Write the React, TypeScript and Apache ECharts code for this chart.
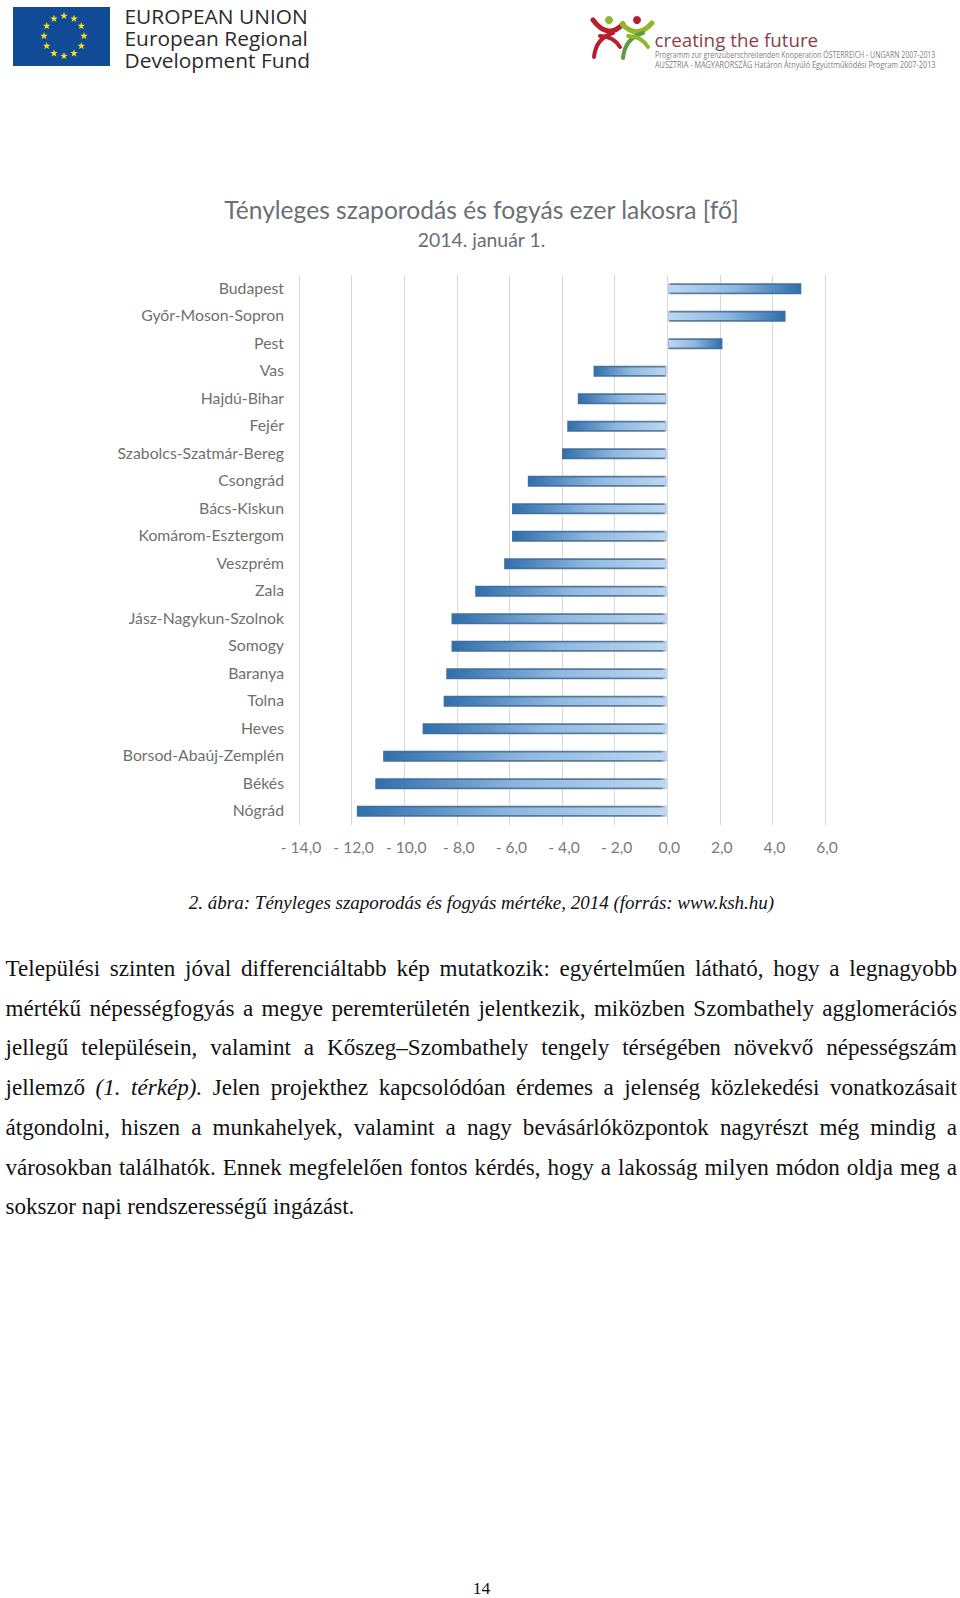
import React, { useEffect, useRef } from "react";
import * as echarts from "echarts";

const categories = ["Budapest","Győr-Moson-Sopron","Pest","Vas","Hajdú-Bihar","Fejér","Szabolcs-Szatmár-Bereg","Csongrád","Bács-Kiskun","Komárom-Esztergom","Veszprém","Zala","Jász-Nagykun-Szolnok","Somogy","Baranya","Tolna","Heves","Borsod-Abaúj-Zemplén","Békés","Nógrád"];
const values = [5.1,4.5,2.1,-2.8,-3.4,-3.8,-4.0,-5.3,-5.9,-5.9,-6.2,-7.3,-8.2,-8.2,-8.4,-8.5,-9.3,-10.8,-11.1,-11.8];
const titleText = "Tényleges szaporodás és fogyás ezer lakosra [fő]";
const subtitleText = "2014. január 1.";
const caption = "2. ábra: Tényleges szaporodás és fogyás mértéke, 2014 (forrás: www.ksh.hu)";
const bodyLines: (string | [string, string, string])[] = [
  "Települési szinten jóval differenciáltabb kép mutatkozik: egyértelműen látható, hogy a legnagyobb",
  "mértékű népességfogyás a megye peremterületén jelentkezik, miközben Szombathely agglomerációs",
  "jellegű településein, valamint a Kőszeg–Szombathely tengely térségében növekvő népességszám",
  ["jellemző ", "(1. térkép).", " Jelen projekthez kapcsolódóan érdemes a jelenség közlekedési vonatkozásait"],
  "átgondolni, hiszen a munkahelyek, valamint a nagy bevásárlóközpontok nagyrészt még mindig a",
  "városokban találhatók. Ennek megfelelően fontos kérdés, hogy a lakosság milyen módon oldja meg a",
];
const lastLine = "sokszor napi rendszerességű ingázást.";
const pageNumber = "14";

function star(cx: number, cy: number, r: number) {
  const pts: number[][] = [];
  for (let i = 0; i < 10; i++) {
    const a = -Math.PI / 2 + (i * Math.PI) / 5;
    const q = i % 2 ? r * 0.4 : r;
    pts.push([cx + q * Math.cos(a), cy + q * Math.sin(a)]);
  }
  return { type: "polygon", shape: { points: pts }, style: { fill: "#f5e21a" }, silent: true };
}

function logos(): any[] {
  const out: any[] = [{ type: "rect", shape: { x: 13, y: 7, width: 97, height: 59 }, style: { fill: "#114a96" } }];
  for (let i = 0; i < 12; i++) {
    const a = (i * Math.PI) / 6;
    out.push(star(64 + 20 * Math.sin(a), 36 - 20 * Math.cos(a), 4));
  }
  const t = (text: string, x: number, y: number, size: number, fill: string, sx = 1, family = "Open Sans") => ({
    type: "text", x, y, scaleX: sx,
    style: { text, fontFamily: family, fontSize: size, fill, textVerticalAlign: "middle" },
  });
  out.push(t("EUROPEAN UNION", 124.5, 16, 20, "#2b2b2b", 1.045));
  out.push(t("European Regional", 124.5, 38, 20, "#2b2b2b", 1.045));
  out.push(t("Development Fund", 124.5, 60, 20, "#2b2b2b", 1.045));
  const curve = (p: number[], stroke: string, lineWidth: number) => ({
    type: "bezierCurve",
    shape: { x1: p[0], y1: p[1], cpx1: p[2], cpy1: p[3], x2: p[4], y2: p[5] },
    style: { stroke, fill: "none", lineWidth, lineCap: "round" },
  });
  out.push({ type: "circle", shape: { cx: 609, cy: 20, r: 4 }, style: { fill: "#8fb82a" } });
  out.push({ type: "circle", shape: { cx: 637, cy: 20, r: 4 }, style: { fill: "#b5202c" } });
  out.push(curve([593, 20, 608, 40, 623, 24], "#b5202c", 5));
  out.push(curve([622, 24, 637, 40, 652, 23], "#8fb82a", 5));
  out.push(curve([613, 33, 596, 38, 594, 57], "#b5202c", 4));
  out.push(curve([600, 36, 613, 36, 620, 47], "#b5202c", 4));
  out.push(curve([643, 33, 625, 38, 623, 58], "#5f9a45", 4));
  out.push(curve([628, 36, 641, 36, 648, 47], "#8fb82a", 4));
  out.push(t("creating the future", 654.5, 40, 18, "#8a3f48", 1.045));
  out.push(t("Programm zur grenzüberschreitenden Kooperation ÖSTERREICH - UNGARN 2007-2013", 655, 55, 8.5, "#808080", 0.82));
  out.push(t("AUSZTRIA - MAGYARORSZÁG Határon Átnyúló Együttműködési Program 2007-2013", 655, 65, 8.5, "#808080", 0.86));
  return out;
}

export default function App() {
  const ref = useRef<HTMLDivElement>(null);
  useEffect(() => {
    document.body.style.margin = "0";
    const chart = echarts.init(ref.current!, undefined, { renderer: "svg" });
    const dark = "#2f6eac", light = "#bdd8f2";
    const grad = (v: number) =>
      new echarts.graphic.LinearGradient(0, 0, 1, 0, v >= 0
        ? [{ offset: 0, color: light }, { offset: 0.5, color: "#8fb8e0" }, { offset: 1, color: dark }]
        : [{ offset: 0, color: dark }, { offset: 0.5, color: "#8fb8e0" }, { offset: 1, color: light }]);
    const edge = (v: number) =>
      new echarts.graphic.LinearGradient(0, 0, 1, 0, v >= 0
        ? [{ offset: 0, color: "#c8dcf0" }, { offset: 0.02, color: "#64809a" }, { offset: 1, color: "#3f6f9f" }]
        : [{ offset: 0, color: "#3f6f9f" }, { offset: 0.98, color: "#64809a" }, { offset: 1, color: "#c8dcf0" }]);
    chart.setOption({
      animation: false,
      backgroundColor: "#fff",
      title: [
        { text: titleText, left: 476.5, top: 192, textAlign: "center",
          textStyle: { fontFamily: "Lato", fontSize: 24.6, fontWeight: "normal", color: "#6a6f73" } },
        { text: subtitleText, left: 476.5, top: 225, textAlign: "center",
          textStyle: { fontFamily: "Lato", fontSize: 19.4, fontWeight: "normal", color: "#6a6f73" } },
      ],
      grid: { left: 299, right: 960 - 825, top: 275, height: 550 },
      xAxis: {
        type: "value", min: -14, max: 6, interval: 2,
        axisLine: { show: false }, axisTick: { show: false },
        splitLine: { lineStyle: { color: "#d9d9d9", width: 1 } },
        axisLabel: {
          margin: 14, padding: [0, 0, 0, 4], fontFamily: "Lato", fontSize: 15.6, color: "#7a7a7a",
          formatter: (v: number) => (v < 0 ? "- " + (-v).toFixed(1).replace(".", ",") : v.toFixed(1).replace(".", ",")),
        },
      },
      yAxis: {
        type: "category", inverse: true, data: categories,
        axisLine: { show: false }, axisTick: { show: false },
        axisLabel: { margin: 15, verticalAlign: "bottom", lineHeight: 3, fontFamily: "Lato", fontSize: 15.8, color: "#6f6f6f" },
      },
      series: [{
        type: "bar", barWidth: 11,
        data: values.map((v) => ({ value: v, itemStyle: { color: grad(v), borderColor: edge(v), borderWidth: 1.8 } })),
      }],
      graphic: logos(),
    });
    return () => chart.dispose();
  }, []);
  const lineBase: React.CSSProperties = {
    position: "absolute", left: 5.5, width: 951.5, fontFamily: "'Liberation Serif'", fontSize: 23.1, lineHeight: "24px",
    color: "#111", textAlign: "justify", textAlignLast: "justify", whiteSpace: "nowrap",
  };
  return (
    <div style={{ position: "relative", width: 960, height: 1598, overflow: "hidden", background: "#fff" }}>
      <div ref={ref} style={{ position: "absolute", left: 0, top: 0, width: 960, height: 1598 }} />
      <div style={{ position: "absolute", left: 0, width: 963, top: 892, textAlign: "center", fontFamily: "'Liberation Serif'", fontStyle: "italic", fontSize: 19, color: "#111" }}>{caption}</div>
      {bodyLines.map((l, i) => (
        <div key={i} style={{ ...lineBase, top: 956 + i * 39.7 }}>
          {typeof l === "string" ? l : <>{l[0]}<i>{l[1]}</i>{l[2]}</>}
        </div>
      ))}
      <div style={{ ...lineBase, top: 956 + 6 * 39.7, textAlign: "left", textAlignLast: "left" }}>{lastLine}</div>
      <div style={{ position: "absolute", left: 0, width: 963, top: 1580, lineHeight: "17px", textAlign: "center", fontFamily: "'Liberation Serif'", fontSize: 17.5, color: "#111" }}>{pageNumber}</div>
    </div>
  );
}
